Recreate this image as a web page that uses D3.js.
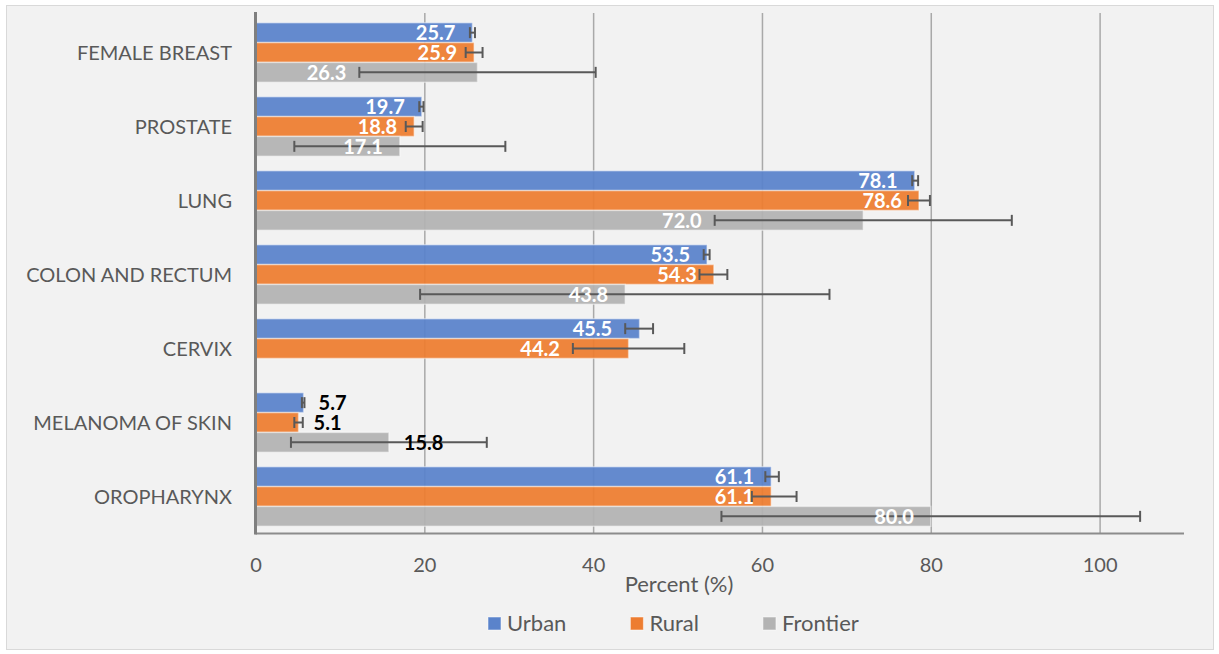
<!DOCTYPE html>
<html>
<head>
<meta charset="utf-8">
<script src="https://cdn.jsdelivr.net/npm/d3@7"></script>
<style>
  html, body { margin: 0; padding: 0; background: #ffffff; }
  svg { display: block; }
</style>
</head>
<body>
<svg id="chart" width="1219" height="654"></svg>
<script>
// ---------- DATA ----------
const categories = ["FEMALE BREAST", "PROSTATE", "LUNG", "COLON AND RECTUM", "CERVIX", "MELANOMA OF SKIN", "OROPHARYNX"];
const seriesNames = ["Urban", "Rural", "Frontier"];

const urbanValues = [25.7, 19.7, 78.1, 53.5, 45.5, 5.7, 61.1];
const urbanLower  = [25.4, 19.4, 77.8, 53.1, 43.8, 5.5, 60.4];
const urbanUpper  = [26.0, 19.9, 78.5, 53.8, 47.1, 5.8, 62.0];

const ruralValues = [25.9, 18.8, 78.6, 54.3, 44.2, 5.1, 61.1];
const ruralLower  = [24.9, 17.8, 77.3, 52.6, 37.6, 4.6, 58.8];
const ruralUpper  = [26.9, 19.8, 79.9, 55.9, 50.8, 5.6, 64.1];

const frontierValues = [26.3, 17.1, 72.0, 43.8, null, 15.8, 80.0];
const frontierLower  = [12.3, 4.6, 54.4, 19.5, null, 4.2, 55.2];
const frontierUpper  = [40.3, 29.6, 89.6, 68.0, null, 27.4, 104.8];

const xTickValues = [0, 20, 40, 60, 80, 100];
const xAxisTitle = "Percent (%)";

// label placement modes (style config): in = inside end, cap = left of lower error cap, out = outside end
const labelModes = {
  Urban:    ["in", "in", "in", "in", "cap", "out", "in"],
  Rural:    ["in", "in", "in", "in", "cap", "out", "in"],
  Frontier: ["cap", "in", "cap", "in", null, "out", "in"]
};

const colors = { Urban: "#5a83cb", Rural: "#ed7d31", Frontier: "#b3b3b3" };

// ---------- BUILD ----------
const seriesData = {
  Urban:    { v: urbanValues, lo: urbanLower, hi: urbanUpper },
  Rural:    { v: ruralValues, lo: ruralLower, hi: ruralUpper },
  Frontier: { v: frontierValues, lo: frontierLower, hi: frontierUpper }
};
const records = [];
categories.forEach((c, i) => {
  seriesNames.forEach(s => {
    const d = seriesData[s];
    if (d.v[i] == null) return;
    records.push({ cat: c, series: s, value: d.v[i], lo: d.lo[i], hi: d.hi[i], mode: labelModes[s][i] });
  });
});

const svg = d3.select("#chart");
const W = 1219, H = 654;
const plot = { left: 255.5, right: 1184, top: 15.5, bottom: 533.5 };

svg.append("rect")
  .attr("x", 6.5).attr("y", 5.5).attr("width", W - 12).attr("height", H - 10)
  .attr("fill", "#f2f2f2").attr("stroke", "#d9d9d9").attr("stroke-width", 1);

const x = d3.scaleLinear().domain([0, 110]).range([plot.left, plot.right]);
const y = d3.scaleBand().domain(categories).range([plot.top, plot.bottom])
  .paddingInner(0.195).paddingOuter(0.0975);
const ySub = d3.scaleBand().domain(seriesNames).range([0, y.bandwidth()]);

// gridlines
const grid = svg.append("g")
  .attr("transform", `translate(0,${plot.bottom})`)
  .call(d3.axisBottom(x).tickValues(xTickValues.filter(v => v > 0))
    .tickSize(-(plot.bottom - 13)).tickFormat(""));
grid.select(".domain").remove();
grid.selectAll(".tick line").attr("stroke", "#a9a9a9").attr("stroke-width", 1.5);

// bars
svg.append("g").selectAll("rect").data(records).join("rect")
  .attr("x", x(0))
  .attr("y", d => y(d.cat) + ySub(d.series))
  .attr("width", d => x(d.value) - x(0))
  .attr("height", ySub.bandwidth())
  .attr("fill", d => colors[d.series])
  .attr("fill-opacity", 0.94)
  .attr("stroke", "rgba(255,255,255,0.45)")
  .attr("stroke-width", 1.5);

// axes lines
svg.append("line").attr("x1", plot.left).attr("x2", plot.right)
  .attr("y1", plot.bottom).attr("y2", plot.bottom)
  .attr("stroke", "#8c8c8c").attr("stroke-width", 2);

// error bars
const eb = svg.append("g").attr("stroke", "#595959").attr("stroke-width", 2).attr("fill", "none");
records.forEach(d => {
  const cy = y(d.cat) + ySub(d.series) + ySub.bandwidth() / 2;
  const g = eb.append("g");
  g.append("line").attr("x1", x(d.lo)).attr("x2", x(d.hi)).attr("y1", cy).attr("y2", cy);
  g.append("line").attr("x1", x(d.lo)).attr("x2", x(d.lo)).attr("y1", cy - 5.5).attr("y2", cy + 5.5);
  g.append("line").attr("x1", x(d.hi)).attr("x2", x(d.hi)).attr("y1", cy - 5.5).attr("y2", cy + 5.5);
});

// y axis line (on top)
svg.append("line").attr("x1", plot.left).attr("x2", plot.left)
  .attr("y1", 12).attr("y2", plot.bottom + 1)
  .attr("stroke", "#7f7f7f").attr("stroke-width", 3);

// value labels
svg.append("g").selectAll("text").data(records).join("text")
  .attr("x", d => d.mode === "out" ? x(d.value) + 15 : d.mode === "cap" ? x(d.lo) - 13 : x(d.value) - 17)
  .attr("y", d => y(d.cat) + ySub(d.series) + ySub.bandwidth() / 2)
  .attr("dy", "0.36em")
  .attr("text-anchor", d => d.mode === "out" ? "start" : "end")
  .attr("font-family", "Lato, sans-serif")
  .attr("font-weight", "bold")
  .attr("font-size", 20)
  .attr("fill", d => d.mode === "out" ? "#000000" : "#ffffff")
  .text(d => d.value.toFixed(1));

// category axis
const yAxis = svg.append("g").attr("transform", `translate(${plot.left},0)`)
  .call(d3.axisLeft(y).tickSize(0).tickPadding(23.5));
yAxis.select(".domain").remove();
yAxis.selectAll("text")
  .attr("font-family", "Lato, sans-serif").attr("font-size", 20)
  .attr("fill", "#595959").attr("dy", "0.36em");

// x tick labels
const xAxis = svg.append("g").attr("transform", `translate(0,${plot.bottom})`)
  .call(d3.axisBottom(x).tickValues(xTickValues).tickSize(0).tickPadding(0).tickFormat(d3.format("d")));
xAxis.select(".domain").remove();
xAxis.selectAll("text")
  .attr("font-family", "Lato, sans-serif").attr("font-size", 20)
  .attr("fill", "#595959").attr("dy", null).attr("y", 38);

// axis title
svg.append("text").attr("x", 679).attr("y", 592)
  .attr("text-anchor", "middle")
  .attr("font-family", "Lato, sans-serif").attr("font-size", 22)
  .attr("fill", "#595959").text(xAxisTitle);

// legend
const legend = svg.append("g");
let lx = 488;
seriesNames.forEach(s => {
  legend.append("rect").attr("x", lx).attr("y", 617).attr("width", 13).attr("height", 13)
    .attr("fill", colors[s]).attr("stroke", "rgba(255,255,255,0.5)").attr("stroke-width", 1);
  const t = legend.append("text").attr("x", lx + 19).attr("y", 630.5)
    .attr("font-family", "Lato, sans-serif").attr("font-size", 22)
    .attr("fill", "#595959").text(s);
  lx = lx + 19 + t.node().getComputedTextLength() + 64;
});
</script>
</body>
</html>
